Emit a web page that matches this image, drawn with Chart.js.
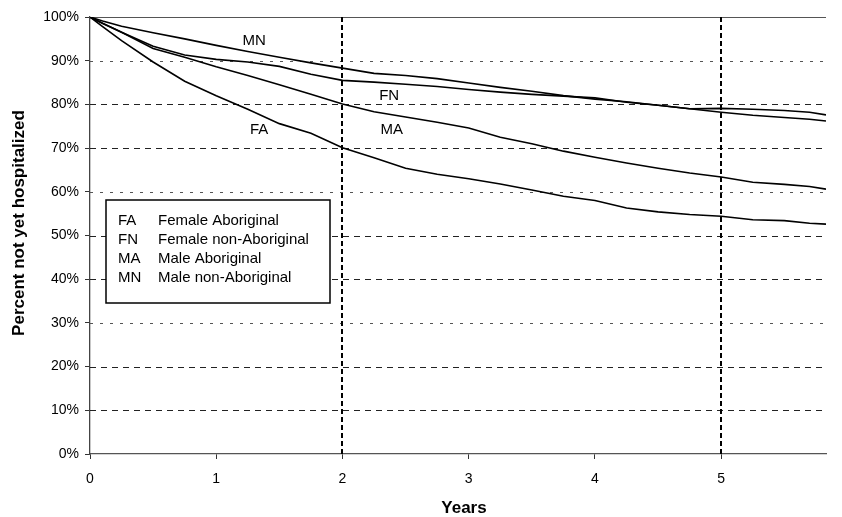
<!DOCTYPE html>
<html>
<head>
<meta charset="utf-8">
<script src="https://cdn.jsdelivr.net/npm/chart.js@4.4.0/dist/chart.umd.min.js"></script>
<style>
  html, body { margin: 0; padding: 0; background: #fff; }
</style>
</head>
<body>
<canvas id="chart" width="842" height="517"></canvas>
<script>
// years since start
const years = [0, 0.1, 0.25, 0.5, 0.75, 1, 1.25, 1.5, 1.75, 2, 2.25, 2.5, 2.75, 3, 3.25, 3.5, 3.75, 4, 4.25, 4.5, 4.75, 5, 5.25, 5.5, 5.7, 5.83];

// percent not yet hospitalized
const femaleAboriginal    = [100, 97.8, 94.6, 89.7, 85.3, 82.0, 78.9, 75.6, 73.4, 70.1, 67.8, 65.4, 64.0, 63.0, 61.8, 60.4, 59.0, 58.0, 56.3, 55.4, 54.8, 54.4, 53.6, 53.4, 52.8, 52.6];
const femaleNonAboriginal = [100, 98.6, 96.5, 93.3, 91.3, 90.3, 89.7, 88.7, 86.9, 85.5, 85.1, 84.6, 84.1, 83.4, 82.8, 82.3, 81.9, 81.5, 80.5, 79.8, 79.0, 79.1, 78.9, 78.6, 78.2, 77.6];
const maleAboriginal      = [100, 98.5, 96.5, 92.8, 90.8, 88.6, 86.6, 84.5, 82.3, 80.1, 78.3, 77.1, 75.9, 74.6, 72.5, 71.0, 69.3, 67.9, 66.6, 65.4, 64.3, 63.4, 62.2, 61.7, 61.2, 60.6];
const maleNonAboriginal   = [100, 99.1, 97.9, 96.4, 95.0, 93.5, 92.1, 90.8, 89.5, 88.3, 87.1, 86.6, 85.9, 84.9, 83.9, 83.0, 82.0, 81.2, 80.6, 79.8, 79.0, 78.2, 77.5, 77.0, 76.6, 76.2];

const seriesCodes = ['FA', 'FN', 'MA', 'MN'];
const seriesNames = ['Female Aboriginal', 'Female non-Aboriginal', 'Male Aboriginal', 'Male non-Aboriginal'];
const seriesValues = [femaleAboriginal, femaleNonAboriginal, maleAboriginal, maleNonAboriginal];

// where the curve codes sit, in data units
const codeLabelX = [1.34, 2.37, 2.39, 1.30];
const codeLabelY = [74.1, 81.9, 74.1, 94.6];

const yTickValues = [0, 10, 20, 30, 40, 50, 60, 70, 80, 90, 100];
const xTickValues = [0, 1, 2, 3, 4, 5];
const markedYears = [2, 5];
const xMax = 5.83;

const FONT = '"Liberation Sans", Arial, sans-serif';
const dottedLines = [90, 60, 30];

// grid, reference lines, curve codes, legend box and axis titles
const extras = {
  id: 'extras',
  beforeDatasetsDraw(chart) {
    const { ctx, chartArea: a, scales: { x, y } } = chart;
    ctx.save();
    yTickValues.forEach(v => {
      if (v === 0) return;
      const py = Math.round(y.getPixelForValue(v)) + 0.5;
      ctx.beginPath();
      if (v === 100) {
        ctx.setLineDash([]);
        ctx.strokeStyle = '#555';
        ctx.lineWidth = 1.2;
      } else if (dottedLines.includes(v)) {
        ctx.setLineDash([3, 7]);
        ctx.strokeStyle = '#555';
        ctx.lineWidth = 1;
      } else {
        ctx.setLineDash([6, 5]);
        ctx.strokeStyle = '#222';
        ctx.lineWidth = 1.1;
      }
      ctx.moveTo(a.left, py);
      ctx.lineTo(a.right, py);
      ctx.stroke();
    });
    markedYears.forEach(v => {
      const px = Math.round(x.getPixelForValue(v));
      ctx.beginPath();
      ctx.setLineDash([5, 3]);
      ctx.strokeStyle = '#000';
      ctx.lineWidth = 2;
      ctx.moveTo(px, a.top);
      ctx.lineTo(px, a.bottom);
      ctx.stroke();
    });
    ctx.restore();
  },
  afterDatasetsDraw(chart) {
    const { ctx, chartArea: a, scales: { x, y } } = chart;
    ctx.save();
    ctx.fillStyle = '#000';
    ctx.font = '15px ' + FONT;
    ctx.textAlign = 'center';
    ctx.textBaseline = 'middle';
    seriesCodes.forEach((code, i) => {
      ctx.fillText(code, x.getPixelForValue(codeLabelX[i]), y.getPixelForValue(codeLabelY[i]));
    });

    // legend box
    const bx = a.left + 16, by = a.top + 183, bw = 224, bh = 103;
    ctx.fillStyle = '#fff';
    ctx.fillRect(bx, by, bw, bh);
    ctx.strokeStyle = '#000';
    ctx.lineWidth = 1.5;
    ctx.strokeRect(bx, by, bw, bh);
    ctx.fillStyle = '#000';
    ctx.font = '15px ' + FONT;
    ctx.textAlign = 'left';
    seriesCodes.forEach((code, i) => {
      const ty = by + 21 + i * 19;
      ctx.fillText(code, bx + 12, ty);
      ctx.fillText(seriesNames[i], bx + 52, ty);
    });

    // axis titles
    ctx.font = 'bold 17px ' + FONT;
    ctx.textAlign = 'center';
    ctx.fillText('Years', a.left + 374, 508);
    ctx.translate(19, a.top + 206);
    ctx.rotate(-Math.PI / 2);
    ctx.fillText('Percent not yet hospitalized', 0, 0);
    ctx.restore();
  }
};

const datasets = seriesValues.map((vals, i) => ({
  label: seriesNames[i],
  data: years.map((t, k) => ({ x: t, y: vals[k] })),
  borderColor: '#000',
  borderWidth: 1.6,
  pointRadius: 0,
  fill: false,
  tension: 0
}));

new Chart(document.getElementById('chart').getContext('2d'), {
  type: 'line',
  data: { datasets },
  options: {
    responsive: false,
    animation: false,
    layout: { padding: { top: 17, right: 16, bottom: 0, left: 0 } },
    plugins: { legend: { display: false }, tooltip: { enabled: false } },
    scales: {
      x: {
        type: 'linear',
        min: 0,
        max: xMax,
        afterFit(s) { s.height = 63; },
        afterBuildTicks(s) { s.ticks = xTickValues.map(v => ({ value: v })); },
        grid: { display: true, drawOnChartArea: false, color: '#333', tickLength: 5 },
        border: { display: true, color: '#555', width: 1.3 },
        ticks: { color: '#000', padding: 12, font: { family: FONT, size: 14 } }
      },
      y: {
        min: 0,
        max: 100,
        afterFit(s) { s.width = 90; },
        afterBuildTicks(s) { s.ticks = yTickValues.map(v => ({ value: v })); },
        grid: { display: true, drawOnChartArea: false, color: '#333', tickLength: 5 },
        border: { display: true, color: '#444', width: 1.3 },
        ticks: {
          color: '#000',
          padding: 6,
          font: { family: FONT, size: 14 },
          callback: v => v + '%'
        }
      }
    }
  },
  plugins: [extras]
});
</script>
</body>
</html>
